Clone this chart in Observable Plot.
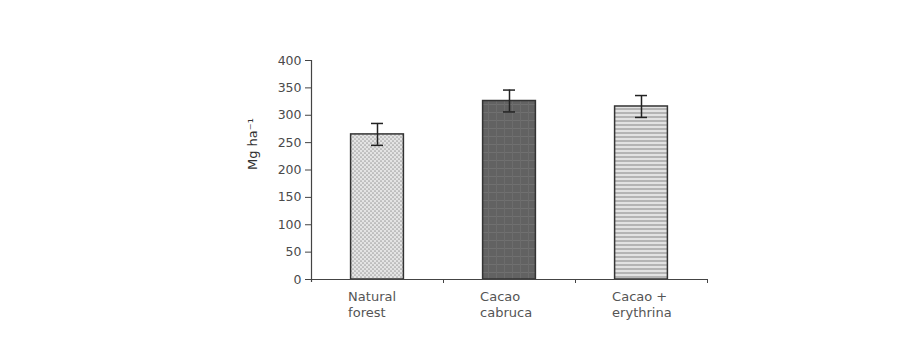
<!DOCTYPE html>
<html>
<head>
<meta charset="utf-8">
<script src="https://cdn.jsdelivr.net/npm/d3@7"></script>
<script src="https://cdn.jsdelivr.net/npm/@observablehq/plot@0.6"></script>
<style>
  html, body { margin: 0; padding: 0; background: #fff; }
  #chart svg { display: block; }
</style>
</head>
<body>
<div id="chart"></div>
<script>
// ---- data ----
const categories = ["Natural\nforest", "Cacao\ncabruca", "Cacao +\nerythrina"];
const biomass    = [265, 326, 316];      // Mg ha-1
const errors     = [20, 20, 20];         // +/- error
const patterns   = ["dots", "dark", "stripes"];
const yTicks     = [0, 50, 100, 150, 200, 250, 300, 350, 400];
const yLabel     = "Mg ha\u207B\u00B9";

const data = categories.map((label, i) => ({
  i, label, value: biomass[i], err: errors[i], fill: `url(#${patterns[i]})`
}));
const bounds = [-0.5, ...categories.map((_, i) => i + 0.5)];
const half = 0.2; // bar half-width as a fraction of the category step

const font = "'DejaVu Sans', Verdana, sans-serif";

const chart = Plot.plot({
  width: 921,
  height: 351,
  marginLeft: 311,
  marginRight: 214,
  marginTop: 60,
  marginBottom: 72,
  style: { fontFamily: font, background: "transparent", overflow: "visible" },
  x: { type: "linear", domain: [bounds[0], bounds[bounds.length - 1]], axis: null },
  y: { domain: [0, 400], axis: null },
  color: { type: "identity" },
  marks: [
    // bars with pattern fills
    Plot.rectY(data, {
      x1: d => d.i - half, x2: d => d.i + half,
      y1: 0, y2: "value",
      fill: "fill", stroke: "#333", strokeWidth: 1.5
    }),
    // error bars
    Plot.ruleX(data, {
      x: "i", y1: d => d.value - d.err, y2: d => d.value + d.err,
      stroke: "#222", strokeWidth: 1.5
    }),
    Plot.ruleY(data, {
      x1: "i", x2: "i", y: d => d.value + d.err,
      insetLeft: -6, insetRight: -6, stroke: "#222", strokeWidth: 1.5
    }),
    Plot.ruleY(data, {
      x1: "i", x2: "i", y: d => d.value - d.err,
      insetLeft: -6, insetRight: -6, stroke: "#222", strokeWidth: 1.5
    }),
    // y axis
    Plot.axisY({
      ticks: yTicks, tickSize: 6, tickPadding: 4,
      fontSize: 12.5, fill: "#4a4a4a", stroke: "#444", label: null
    }),
    Plot.ruleX([bounds[0]], { y1: 400, y2: 0, insetBottom: -3, stroke: "#444", strokeWidth: 1.2 }),
    // x axis line and boundary ticks
    Plot.ruleY([0], { x1: bounds[0], x2: bounds[bounds.length - 1], insetLeft: -3, stroke: "#444", strokeWidth: 1.2 }),
    Plot.ruleX(bounds.slice(1), { y1: 0, y2: 0, insetBottom: -4, stroke: "#444", strokeWidth: 1 }),
    // category labels (left-aligned with bar edge)
    Plot.text(data, {
      x: d => d.i - half, y: 0, text: "label",
      textAnchor: "start", lineAnchor: "top", dy: 11, dx: -3,
      fontSize: 13, lineHeight: 1.17, fill: "#555"
    }),
    // y axis title
    Plot.text([yLabel], {
      frameAnchor: "left", rotate: -90, dx: -59,
      fontSize: 13, fill: "#333"
    })
  ]
});

// pattern definitions
const svg = d3.select(chart);
const defs = svg.insert("defs", ":first-child");

const dots = defs.append("pattern").attr("id", "dots")
  .attr("patternUnits", "userSpaceOnUse").attr("width", 4).attr("height", 4);
dots.append("rect").attr("width", 4).attr("height", 4).attr("fill", "#e4e4e4");
dots.append("circle").attr("cx", 1).attr("cy", 1).attr("r", 0.85).attr("fill", "#a0a0a0");
dots.append("circle").attr("cx", 3).attr("cy", 3).attr("r", 0.85).attr("fill", "#a0a0a0");

const dark = defs.append("pattern").attr("id", "dark")
  .attr("patternUnits", "userSpaceOnUse").attr("width", 8).attr("height", 8);
dark.append("rect").attr("width", 8).attr("height", 8).attr("fill", "#626262");
dark.append("rect").attr("width", 8).attr("height", 1).attr("fill", "#707070");
dark.append("rect").attr("width", 1).attr("height", 8).attr("fill", "#6c6c6c");

const stripes = defs.append("pattern").attr("id", "stripes")
  .attr("patternUnits", "userSpaceOnUse").attr("width", 4).attr("height", 4);
stripes.append("rect").attr("width", 4).attr("height", 4).attr("fill", "#e2e2e2");
stripes.append("rect").attr("width", 4).attr("height", 2).attr("fill", "#b4b4b4");

document.getElementById("chart").appendChild(chart);
</script>
</body>
</html>
